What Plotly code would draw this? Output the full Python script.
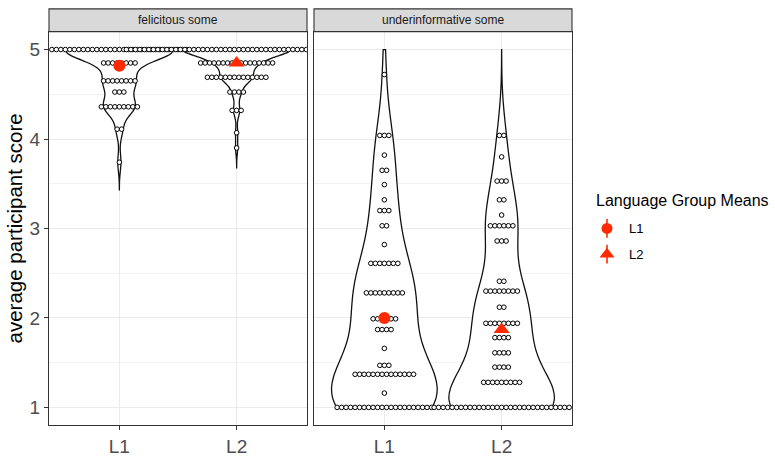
import numpy as np
import plotly.graph_objects as go

# ---------------- data ----------------
conditions = ["felicitous some", "underinformative some"]
groups = ["L1", "L2"]

# dot-plot rows: participant average score and number of participants in that row
fel_L1_scores = [5.00, 4.85, 4.65, 4.525, 4.36, 4.11, 3.74]
fel_L1_counts = [31, 8, 8, 3, 9, 2, 1]
fel_L2_scores = [5.00, 4.85, 4.69, 4.525, 4.32, 4.07, 3.90]
fel_L2_counts = [50, 17, 14, 4, 3, 1, 1]
und_L1_scores = [4.72, 4.04, 3.82, 3.65, 3.49, 3.32, 3.20, 3.03, 2.82, 2.61,
                 2.28, 1.99, 1.87, 1.66, 1.47, 1.37, 1.16, 1.00]
und_L1_counts = [1, 3, 1, 2, 1, 1, 3, 2, 1, 7, 9, 6, 4, 1, 3, 14, 1, 22]
und_L2_scores = [4.04, 3.80, 3.53, 3.32, 3.15, 3.03, 2.86, 2.41, 2.30, 2.12,
                 1.94, 1.78, 1.61, 1.45, 1.28, 1.00]
und_L2_counts = [2, 1, 3, 2, 1, 6, 3, 2, 8, 2, 8, 4, 4, 4, 9, 31]

# language group means per condition
mean_L1 = [4.82, 2.00]
mean_L2 = [4.85, 1.87]

y_limits = [1, 5]
y_ticks = [1, 2, 3, 4, 5]
y_minor = [1.5, 2.5, 3.5, 4.5]

# ---------------- styling / layout ----------------
W, H = 775, 457
RED = "#FF2A00"
P1 = (49, 307)
P2 = (314, 572)
PT, PB = 32, 430
STRIP_TOP = 9
XR = [0.4, 2.6]
YR = [y_limits[0] - 0.05 * (y_limits[1] - y_limits[0]),
      y_limits[1] + 0.05 * (y_limits[1] - y_limits[0])]
DOT_PX = 4.5
dx = DOT_PX * (XR[1] - XR[0]) / (P1[1] - P1[0])
LEG_BOX = (590, 660, 212, 278)  # x0, x1, y0(top), y1(bottom) in px
FONT = "Liberation Sans, Arial"


def fx(p):
    return p / W


def fy(p):
    return 1 - p / H


def nrd0(x):
    x = np.asarray(x, float)
    hi = float(np.std(x, ddof=1))
    q75, q25 = np.percentile(x, [75, 25])
    lo = min(hi, float(q75 - q25) / 1.34)
    if lo == 0:
        lo = hi or abs(x[0]) or 1.0
    return 0.9 * lo * len(x) ** -0.2


data = {
    ("felicitous some", "L1"): (fel_L1_scores, fel_L1_counts),
    ("felicitous some", "L2"): (fel_L2_scores, fel_L2_counts),
    ("underinformative some", "L1"): (und_L1_scores, und_L1_counts),
    ("underinformative some", "L2"): (und_L2_scores, und_L2_counts),
}
means = {"L1": mean_L1, "L2": mean_L2}
symbols = {"L1": ("circle", 12), "L2": ("triangle-up", 14)}

fig = go.Figure()

# violins
for ci, cond in enumerate(conditions):
    xa, ya = ("x", "y") if ci == 0 else ("x2", "y2")
    for gi, g in enumerate(groups):
        scores, counts = data[(cond, g)]
        raw = np.repeat(scores, counts).astype(float)
        bw = nrd0(raw)
        lo = max(y_limits[0], float(raw.min()) - 3 * bw)
        hi = min(y_limits[1], float(raw.max()) + 3 * bw)
        fig.add_trace(go.Violin(
            y=raw.tolist(), x0=gi + 1, xaxis=xa, yaxis=ya, orientation="v",
            bandwidth=bw, spanmode="manual", span=[lo, hi],
            width=0.9, scalemode="width", scalegroup=cond,
            points=False, box_visible=False, meanline_visible=False,
            fillcolor="white", line=dict(color="#111111", width=1.3),
            hoverinfo="skip", showlegend=False, name=f"{cond} {g}"))

# dots
for ci, cond in enumerate(conditions):
    xa, ya = ("x", "y") if ci == 0 else ("x2", "y2")
    for gi, g in enumerate(groups):
        scores, counts = data[(cond, g)]
        xs, ys = [], []
        for s, n in zip(scores, counts):
            for k in range(n):
                xs.append(gi + 1 + (k - (n - 1) / 2) * dx)
                ys.append(s)
        fig.add_trace(go.Scatter(
            x=xs, y=ys, xaxis=xa, yaxis=ya, mode="markers",
            marker=dict(size=4.6, color="white",
                        line=dict(color="black", width=1.0)),
            hoverinfo="skip", showlegend=False))

# means
for ci, cond in enumerate(conditions):
    xa, ya = ("x", "y") if ci == 0 else ("x2", "y2")
    for gi, g in enumerate(groups):
        sym, sz = symbols[g]
        fig.add_trace(go.Scatter(
            x=[gi + 1], y=[means[g][ci]], xaxis=xa, yaxis=ya, mode="markers",
            marker=dict(symbol=sym, size=sz, color=RED, line=dict(width=0)),
            showlegend=False, hoverinfo="skip"))

# custom legend glyphs (point + range, as in ggplot) on a small pixel axis
leg_y = {"L1": 231, "L2": 257}
for g in groups:
    sym, sz = symbols[g]
    fig.add_trace(go.Scatter(
        x=[607], y=[leg_y[g]], xaxis="x3", yaxis="y3", mode="markers",
        marker=dict(symbol=sym, size=sz - 1, color=RED, line=dict(width=0)),
        error_y=dict(type="constant", value=9.5, width=0, thickness=1.6, color=RED),
        showlegend=False, hoverinfo="skip", cliponaxis=False))

axis_common = dict(showline=True, mirror=True, linecolor="#333333", linewidth=1.1,
                   zeroline=False, showgrid=True, gridcolor="#EBEBEB", gridwidth=1.1)

xaxis_common = dict(axis_common, range=XR, type="linear", tickmode="array",
                    tickvals=[1, 2], ticktext=groups, ticks="outside", ticklen=4,
                    tickwidth=1, tickcolor="#333333",
                    tickfont=dict(family=FONT, size=19, color="#4D4D4D"))

yaxis_common = dict(axis_common, range=YR, tickmode="array", tickvals=y_ticks,
                    domain=[fy(PB), fy(PT)],
                    minor=dict(tickvals=y_minor, showgrid=True, gridcolor="#F2F2F2",
                               gridwidth=0.6, ticks=""))

shapes, annotations = [], []
for (a, b), cond in zip([P1, P2], conditions):
    shapes.append(dict(type="rect", xref="paper", yref="paper",
                       x0=fx(a), x1=fx(b), y0=fy(PT), y1=fy(STRIP_TOP),
                       fillcolor="#D9D9D9", line=dict(color="#333333", width=1.1),
                       layer="above"))
    annotations.append(dict(xref="paper", yref="paper", x=fx((a + b) / 2),
                            y=fy((PT + STRIP_TOP) / 2), text=cond, showarrow=False,
                            xanchor="center", yanchor="middle",
                            font=dict(family=FONT, size=12, color="#1A1A1A")))

annotations.append(dict(xref="paper", yref="paper", x=fx(14), y=fy((PT + PB) / 2),
                        text="average participant score", textangle=-90, showarrow=False,
                        xanchor="center", yanchor="middle",
                        font=dict(family=FONT, size=20.5, color="black")))
annotations.append(dict(xref="paper", yref="paper", x=fx(594), y=fy(203),
                        text="Language Group Means", showarrow=False,
                        xanchor="left", yanchor="middle",
                        font=dict(family=FONT, size=16, color="black")))
for g in groups:
    annotations.append(dict(xref="paper", yref="paper", x=fx(627), y=fy(leg_y[g]),
                            text=g, showarrow=False, xanchor="left", yanchor="middle",
                            font=dict(family=FONT, size=13, color="black")))

fig.update_layout(
    width=W, height=H, margin=dict(l=0, r=0, t=0, b=0),
    paper_bgcolor="white", plot_bgcolor="rgba(0,0,0,0)",
    violinmode="overlay", violingap=0, violingroupgap=0,
    xaxis=dict(xaxis_common, domain=[fx(P1[0]), fx(P1[1])], anchor="y"),
    xaxis2=dict(xaxis_common, domain=[fx(P2[0]), fx(P2[1])], anchor="y2"),
    yaxis=dict(yaxis_common, anchor="x", ticks="outside", ticklen=4, tickwidth=1,
               tickcolor="#333333",
               tickfont=dict(family=FONT, size=19, color="#4D4D4D")),
    yaxis2=dict(yaxis_common, anchor="x2", showticklabels=False, ticks=""),
    xaxis3=dict(domain=[fx(LEG_BOX[0]), fx(LEG_BOX[1])], range=[LEG_BOX[0], LEG_BOX[1]],
                visible=False, anchor="y3", fixedrange=True),
    yaxis3=dict(domain=[fy(LEG_BOX[3]), fy(LEG_BOX[2])], range=[LEG_BOX[3], LEG_BOX[2]],
                visible=False, anchor="x3", fixedrange=True),
    shapes=shapes, annotations=annotations, showlegend=False,
)

fig.write_html("out.html")
